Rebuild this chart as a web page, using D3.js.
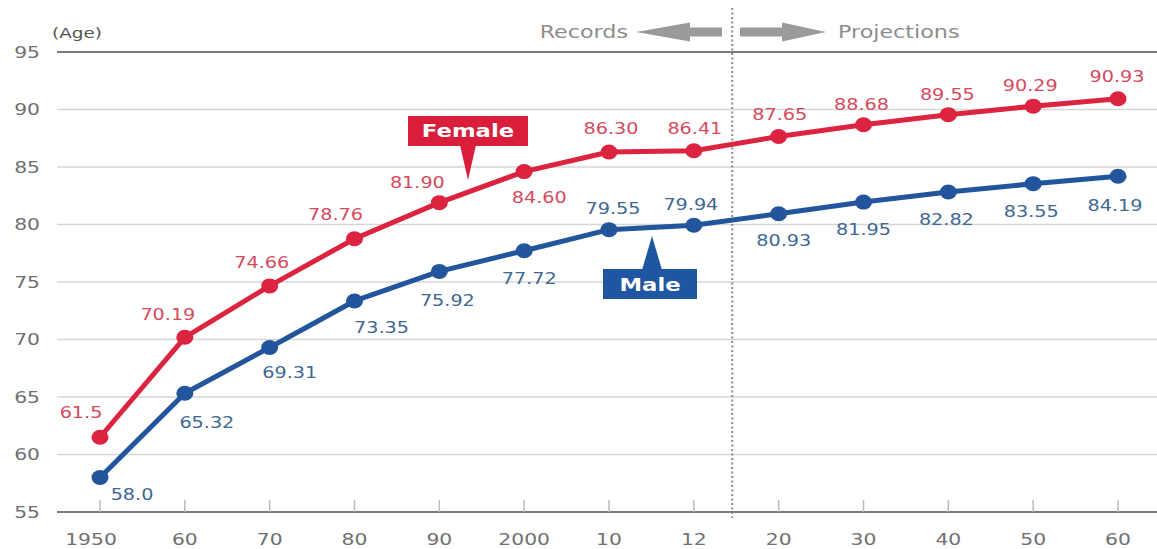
<!DOCTYPE html>
<html>
<head>
<meta charset="utf-8">
<script src="https://cdn.jsdelivr.net/npm/d3@7"></script>
<style>
  html, body { margin: 0; padding: 0; background: #fff; }
  svg { display: block; }
  text { font-family: "DejaVu Sans", sans-serif; }
</style>
</head>
<body>
<div id="chart"></div>
<script>
// ---------- data ----------
const categories = ["1950", "60", "70", "80", "90", "2000", "10", "12", "20", "30", "40", "50", "60 "];
const tickLabels = ["1950", "60", "70", "80", "90", "2000", "10", "12", "20", "30", "40", "50", "60"];
const femaleValues = [61.5, 70.19, 74.66, 78.76, 81.90, 84.60, 86.30, 86.41, 87.65, 88.68, 89.55, 90.29, 90.93];
const femaleLabels = ["61.5", "70.19", "74.66", "78.76", "81.90", "84.60", "86.30", "86.41", "87.65", "88.68", "89.55", "90.29", "90.93"];
const maleValues = [58.0, 65.32, 69.31, 73.35, 75.92, 77.72, 79.55, 79.94, 80.93, 81.95, 82.82, 83.55, 84.19];
const maleLabels = ["58.0", "65.32", "69.31", "73.35", "75.92", "77.72", "79.55", "79.94", "80.93", "81.95", "82.82", "83.55", "84.19"];
const yTicks = [55, 60, 65, 70, 75, 80, 85, 90, 95];

// ---------- layout (label placement offsets, px) ----------
const femaleLabelOffsets = [[-19,-25],[-17,-23],[-8,-23],[-19,-24],[-22,-20],[15,26],[2,-23],[1,-22],[1,-22],[-2,-20],[-1,-20],[-3,-21],[-1,-22]];
const maleLabelOffsets = [[32,17],[22,29],[20,25],[27,27],[8,29],[5,28],[4,-21],[-3,-21],[5,27],[0,27],[-2,27],[-2,28],[-3,29]];

const W = 1157, H = 549;
const SX = 1.27; // horizontal text stretch of the original
const RED = "#dc2340", BLUE = "#22559c";
const RED_TXT = "#d64a5e", BLUE_TXT = "#406893", GRAY_TXT = "#707070";

const svg = d3.select("#chart").append("svg").attr("width", W).attr("height", H);

const x = d3.scalePoint().domain(categories).range([100, 1118]).padding(0);
const y = d3.scaleLinear().domain([55, 95]).range([512, 52]);

function stext(g, px, py, str, o) {
  return g.append("text")
    .attr("transform", `translate(${px},${py}) scale(${o.sx || SX},1)`)
    .attr("text-anchor", o.anchor || "middle")
    .attr("dominant-baseline", "central")
    .attr("font-size", o.size || 16)
    .attr("font-weight", o.weight || "normal")
    .attr("fill", o.fill || GRAY_TXT)
    .text(str);
}

// gridlines
const grid = svg.append("g");
grid.selectAll("line").data(yTicks).join("line")
  .attr("x1", 57).attr("x2", W)
  .attr("y1", d => y(d)).attr("y2", d => y(d))
  .attr("stroke", d => (d === 55 || d === 95) ? "#7a7a7a" : "#d6d6d6")
  .attr("stroke-width", d => (d === 55 || d === 95) ? 2 : 1.5);

// y labels
yTicks.forEach(v => stext(svg, 40, y(v), String(v), {anchor: "end", size: 16}));
stext(svg, 52, 33, "(Age)", {anchor: "start", size: 14.5, fill: "#555"});

// x ticks and labels
svg.append("g").selectAll("line").data(categories).join("line")
  .attr("x1", d => x(d)).attr("x2", d => x(d))
  .attr("y1", 500).attr("y2", 512)
  .attr("stroke", "#bbbbbb").attr("stroke-width", 1.5);
categories.forEach((c, i) => stext(svg, x(c) - (i === 0 ? 9 : 0), 539, tickLabels[i], {size: 16}));

// records / projections divider
const divX = (x("12") + x("20")) / 2 - 4;
svg.append("line")
  .attr("x1", divX).attr("x2", divX).attr("y1", 8).attr("y2", 518)
  .attr("stroke", "#8a8a8a").attr("stroke-width", 2).attr("stroke-dasharray", "2,2.5");

// arrows
const ay = 32;
svg.append("path")
  .attr("d", `M636,${ay} L690,${ay-9.5} L690,${ay-4.5} L722,${ay-4.5} L722,${ay+4.5} L690,${ay+4.5} L690,${ay+9.5} Z`)
  .attr("fill", "#9a9a9a");
svg.append("path")
  .attr("d", `M826,${ay} L782,${ay-9.5} L782,${ay-4.5} L740,${ay-4.5} L740,${ay+4.5} L782,${ay+4.5} L782,${ay+9.5} Z`)
  .attr("fill", "#9a9a9a");
stext(svg, 628, ay, "Records", {anchor: "end", size: 17.5, fill: "#8c8c8c"});
stext(svg, 838, ay, "Projections", {anchor: "start", size: 17.5, fill: "#8c8c8c"});

// lines
const line = d3.line().x((d, i) => x(categories[i])).y(d => y(d));
function series(values, color) {
  svg.append("path").datum(values)
    .attr("d", line).attr("fill", "none")
    .attr("stroke", color).attr("stroke-width", 5).attr("stroke-linejoin", "round");
  svg.append("g").selectAll("ellipse").data(values).join("ellipse")
    .attr("cx", (d, i) => x(categories[i])).attr("cy", d => y(d))
    .attr("rx", 8.5).attr("ry", 7.5).attr("fill", color);
}
series(femaleValues, RED);
series(maleValues, BLUE);

// value labels
femaleValues.forEach((v, i) => {
  const o = femaleLabelOffsets[i];
  stext(svg, x(categories[i]) + o[0], y(v) + o[1], femaleLabels[i], {size: 16, fill: RED_TXT, sx: 1.2});
});
maleValues.forEach((v, i) => {
  const o = maleLabelOffsets[i];
  stext(svg, x(categories[i]) + o[0], y(v) + o[1], maleLabels[i], {size: 16, fill: BLUE_TXT, sx: 1.2});
});

// series tags
svg.append("rect").attr("x", 408).attr("y", 116).attr("width", 120).attr("height", 30).attr("fill", "#d81e3a");
svg.append("path").attr("d", "M460,145 L468,180 L476,145 Z").attr("fill", "#d81e3a");
stext(svg, 468, 131, "Female", {size: 17.5, weight: "bold", fill: "#fff", sx: 1.3});

svg.append("rect").attr("x", 603).attr("y", 269).attr("width", 94).attr("height", 30).attr("fill", "#1f55a2");
svg.append("path").attr("d", "M642,270 L652,236 L662,270 Z").attr("fill", "#1f55a2");
stext(svg, 650, 285, "Male", {size: 17.5, weight: "bold", fill: "#fff", sx: 1.3});
</script>
</body>
</html>
